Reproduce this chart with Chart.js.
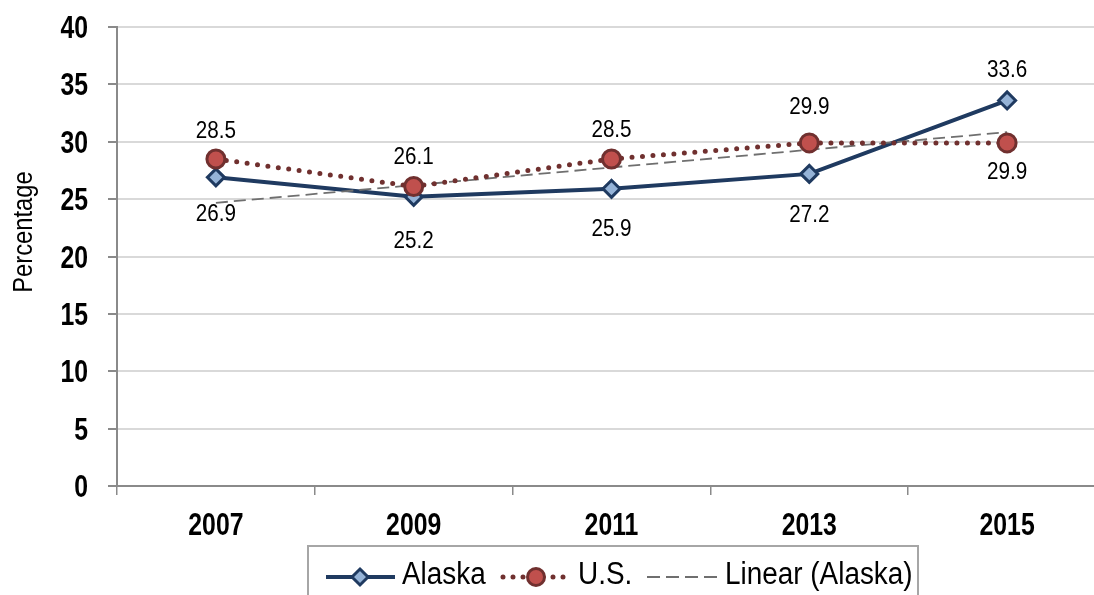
<!DOCTYPE html>
<html>
<head>
<meta charset="utf-8">
<script src="https://cdn.jsdelivr.net/npm/chart.js@4/dist/chart.umd.min.js"></script>
<style>
  html, body { margin: 0; padding: 0; background: #fff; overflow: hidden; }
  #chart { position: absolute; left: 0; top: 0; }
</style>
</head>
<body>
<canvas id="chart" width="1118" height="595"></canvas>
<script>
const years = ["2007", "2009", "2011", "2013", "2015"];
const alaska = [26.9, 25.2, 25.9, 27.2, 33.6];
const us = [28.5, 26.1, 28.5, 29.9, 29.9];
const yTicks = [0, 5, 10, 15, 20, 25, 30, 35, 40];
const legendNames = ["Alaska", "U.S.", "Linear (Alaska)"];

// label offsets in px from the point (negative = above)
const alaskaLabelDy = [36, 43, 39, 40, -31];
const usLabelDy = [-29, -31, -30, -37, 28];

const BLUE = "#1F3A60", BLUE_FILL = "#95B3D7";
const RED = "#70302F", RED_FILL = "#C0504D";
const GREY = "#6f6f6f";
const FONT = '"Liberation Sans", Arial, sans-serif';

// least squares trend of the Alaska series, like Excel's linear trendline
function linearFit(vals) {
  const n = vals.length;
  let sx = 0, sy = 0, sxy = 0, sxx = 0;
  vals.forEach((v, i) => { sx += i; sy += v; sxy += i * v; sxx += i * i; });
  const b = (n * sxy - sx * sy) / (n * sxx - sx * sx);
  const a = (sy - b * sx) / n;
  return vals.map((v, i) => a + b * i);
}
const alaskaTrend = linearFit(alaska);

// the original uses a narrow face, so squeeze Liberation Sans sideways
function narrowText(ctx, text, x, y, font, sx, align) {
  ctx.save();
  ctx.font = font;
  ctx.textAlign = align || "center";
  ctx.textBaseline = "alphabetic";
  ctx.translate(x, y);
  ctx.scale(sx, 1);
  ctx.fillText(text, 0, 0);
  ctx.restore();
}

const textPlugin = {
  id: "texts",
  afterDraw(chart) {
    const ctx = chart.ctx;
    const xs = chart.scales.x, ys = chart.scales.y;
    ctx.save();
    ctx.fillStyle = "#000";

    // y tick labels
    yTicks.forEach(v => {
      narrowText(ctx, String(v), 88, ys.getPixelForValue(v) + 11, "bold 31px " + FONT, 0.8, "right");
    });
    // x tick labels
    chart.data.labels.forEach((lab, i) => {
      narrowText(ctx, lab, xs.getPixelForTick(i), 535, "bold 31px " + FONT, 0.8, "center");
    });

    // point labels
    chart.data.datasets.forEach((ds, di) => {
      if (!ds.labelDy) return;
      const meta = chart.getDatasetMeta(di);
      meta.data.forEach((pt, i) => {
        narrowText(ctx, ds.data[i].toFixed(1), pt.x, pt.y + ds.labelDy[i] + 8, "24px " + FONT, 0.86, "center");
      });
    });

    // axis title
    ctx.save();
    ctx.translate(32, 232);
    ctx.rotate(-Math.PI / 2);
    narrowText(ctx, "Percentage", 0, 0, "27px " + FONT, 0.88, "center");
    ctx.restore();

    // legend box
    const ly = 577;
    ctx.strokeStyle = "#a6a6a6";
    ctx.lineWidth = 2;
    ctx.strokeRect(308, 546, 610, 80);

    // Alaska sample
    ctx.strokeStyle = BLUE;
    ctx.lineWidth = 4;
    ctx.beginPath(); ctx.moveTo(326, ly); ctx.lineTo(395, ly); ctx.stroke();
    ctx.fillStyle = BLUE_FILL;
    ctx.lineWidth = 3;
    ctx.beginPath();
    ctx.moveTo(360, ly - 8); ctx.lineTo(368, ly); ctx.lineTo(360, ly + 8); ctx.lineTo(352, ly);
    ctx.closePath(); ctx.fill(); ctx.stroke();

    // U.S. sample
    ctx.strokeStyle = RED;
    ctx.lineWidth = 5;
    ctx.lineCap = "round";
    ctx.setLineDash([0, 10]);
    ctx.beginPath(); ctx.moveTo(503, ly); ctx.lineTo(572, ly); ctx.stroke();
    ctx.setLineDash([]);
    ctx.lineCap = "butt";
    ctx.fillStyle = RED_FILL;
    ctx.lineWidth = 3;
    ctx.beginPath(); ctx.arc(536, ly, 8.5, 0, Math.PI * 2); ctx.fill(); ctx.stroke();

    // trend sample
    ctx.strokeStyle = GREY;
    ctx.lineWidth = 1.8;
    ctx.setLineDash([13, 6]);
    ctx.beginPath(); ctx.moveTo(647, ly); ctx.lineTo(720, ly); ctx.stroke();
    ctx.setLineDash([]);

    ctx.fillStyle = "#000";
    narrowText(ctx, legendNames[0], 402, 584, "31px " + FONT, 0.9, "left");
    narrowText(ctx, legendNames[1], 578, 584, "31px " + FONT, 0.9, "left");
    narrowText(ctx, legendNames[2], 725, 584, "31px " + FONT, 0.9, "left");
    ctx.restore();
  }
};

new Chart(document.getElementById("chart"), {
  type: "line",
  data: {
    labels: years,
    datasets: [
      {
        label: legendNames[0],
        data: alaska,
        labelDy: alaskaLabelDy,
        borderColor: BLUE,
        borderWidth: 4,
        pointStyle: "rectRot",
        pointRadius: 8.5,
        pointBorderWidth: 3,
        pointBackgroundColor: BLUE_FILL,
        pointBorderColor: BLUE,
        order: 3
      },
      {
        label: legendNames[1],
        data: us,
        labelDy: usLabelDy,
        borderColor: RED,
        borderWidth: 5,
        borderDash: [0, 10.5],
        borderCapStyle: "round",
        pointStyle: "circle",
        pointRadius: 9,
        pointBorderWidth: 3,
        pointBackgroundColor: RED_FILL,
        pointBorderColor: RED,
        order: 1
      },
      {
        label: legendNames[2],
        data: alaskaTrend,
        borderColor: GREY,
        borderWidth: 1.8,
        borderDash: [12, 6],
        pointRadius: 0,
        order: 2
      }
    ]
  },
  options: {
    responsive: false,
    animation: false,
    layout: { padding: { top: 27, right: 3, left: 0, bottom: 50 } },
    plugins: { legend: { display: false }, tooltip: { enabled: false } },
    scales: {
      x: {
        offset: true,
        grid: {
          offset: true,
          drawOnChartArea: false,
          tickLength: 9,
          color: "#8a8a8a",
          lineWidth: 1.5
        },
        border: { color: "#8a8a8a", width: 2 },
        ticks: { display: false },
        afterFit(scale) { scale.height = 59; }
      },
      y: {
        min: 0,
        max: 40,
        afterBuildTicks(scale) { scale.ticks = yTicks.map(v => ({ value: v })); },
        grid: {
          color: "#d9d9d9",
          lineWidth: 2,
          tickLength: 9,
          tickColor: "#8a8a8a"
        },
        border: { color: "#8a8a8a", width: 2 },
        ticks: { display: false },
        afterFit(scale) { scale.width = 117; }
      }
    }
  },
  plugins: [textPlugin]
});
</script>
</body>
</html>
